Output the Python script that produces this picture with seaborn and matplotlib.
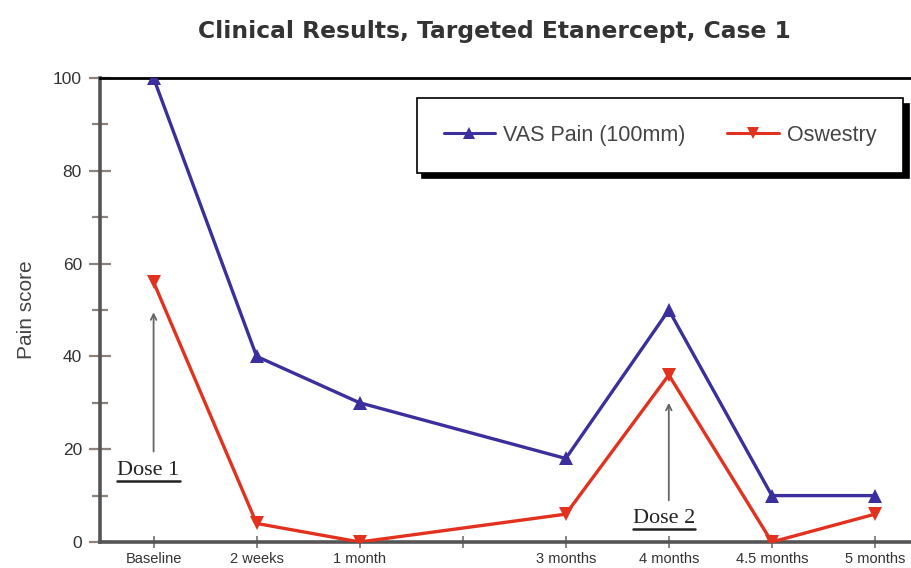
import numpy as np
import pandas as pd
import seaborn as sns
import matplotlib
matplotlib.use('Agg')
import matplotlib.pyplot as plt
from matplotlib.ticker import MultipleLocator

# tick slots on the x axis (one slot left empty, as in the source chart)
categories = ['Baseline', '2 weeks', '1 month', '', '3 months', '4 months', '4.5 months', '5 months']
timepoints = ['Baseline', '2 weeks', '1 month', '3 months', '4 months', '4.5 months', '5 months']
vas_pain = [100, 40, 30, 18, 50, 10, 10]
oswestry = [56, 4, 0, 6, 36, 0, 6]

series_names = ['VAS Pain (100mm)', 'Oswestry']
colors = {'VAS Pain (100mm)': '#3b2f9e', 'Oswestry': '#e2321f'}
markers = {'VAS Pain (100mm)': '^', 'Oswestry': 'v'}

df = pd.DataFrame({
    'time': timepoints * 2,
    'score': vas_pain + oswestry,
    'series': [series_names[0]] * len(timepoints) + [series_names[1]] * len(timepoints),
})
df['pos'] = df['time'].map(categories.index)

sns.set_style('white')
plt.rcParams['font.family'] = ['Liberation Sans', 'DejaVu Sans']

fig = plt.figure(figsize=(9.12, 5.68), dpi=100)
ax = fig.add_axes([100 / 912, 1 - 542 / 568, 812 / 912, 464 / 568])

sns.lineplot(data=df, x='pos', y='score', hue='series', style='series',
             palette=colors, markers=markers, dashes=False, markersize=10,
             markeredgewidth=0, linewidth=2.4, ax=ax, legend=False, zorder=3)

ax.set_xlim(-0.52, 7.36)
ax.set_ylim(0, 100)
ax.set_xticks(range(len(categories)))
ax.set_xticklabels(categories, fontsize=10.5, color='#333333')
ax.yaxis.set_major_locator(MultipleLocator(20))
ax.yaxis.set_minor_locator(MultipleLocator(10))
ax.tick_params(left=True, bottom=True, which='both')
ax.tick_params(axis='y', which='major', direction='inout', length=16, width=1.6,
               color='#8c847c', labelsize=12.5, labelcolor='#333333', pad=5)
ax.tick_params(axis='y', which='minor', direction='inout', length=12, width=1.6, color='#8c847c')
ax.tick_params(axis='x', direction='inout', length=9, width=1.4, color='#8c847c', pad=3)
ax.set_xlabel('')
ax.set_ylabel('Pain score', fontsize=15, color='#444444', labelpad=12)

for s in ['left', 'bottom']:
    ax.spines[s].set_color('#555555')
    ax.spines[s].set_linewidth(2.6)
ax.spines['top'].set_color('black')
ax.spines['top'].set_linewidth(2)
ax.spines['right'].set_visible(False)

fig.suptitle('Clinical Results, Targeted Etanercept, Case 1', x=0.542, y=0.944, va='center',
             fontsize=16.8, fontweight='bold', family='DejaVu Sans', color='#333333')

handles = [plt.Line2D([], [], color=colors[n], marker=markers[n], markersize=9,
                      markeredgewidth=0, linewidth=2.2) for n in series_names]
leg = ax.legend(handles, series_names, loc='upper left', bbox_to_anchor=(0.39, 0.957, 0.599, 0.0),
                mode='expand', ncol=2, frameon=True, fancybox=False, fontsize=15.5,
                borderpad=1.25, handlelength=2.4, handletextpad=0.35,
                columnspacing=1.5, borderaxespad=0,
                shadow={'color': 'black', 'alpha': 1, 'ox': 4, 'oy': -4})
leg.get_frame().set_edgecolor('black')
leg.get_frame().set_linewidth(1.2)
for t in leg.get_texts():
    t.set_color('#444444')

# dose annotations
doses = [('Dose 1', 0, 15.5, 19.5, 49.5), ('Dose 2', 5, 5.0, 9, 30)]
dose_texts = []
for label, xpos, ytext, ystart, yend in doses:
    ax.annotate('', xy=(xpos, yend), xytext=(xpos, ystart),
                arrowprops=dict(arrowstyle='->', color='#666666', lw=1.3, shrinkA=0, shrinkB=0))
    t = ax.text(xpos - 0.05, ytext, label, fontsize=16, family='Liberation Serif',
                ha='center', va='center', color='#222222')
    dose_texts.append(t)

# underline the dose labels
fig.canvas.draw()
inv = fig.transFigure.inverted()
for t in dose_texts:
    bb = t.get_window_extent()
    (x0, y0), (x1, _) = inv.transform([(bb.x0, bb.y0 - 1), (bb.x1, bb.y0)])
    fig.add_artist(plt.Line2D([x0, x1], [y0, y0], color='#222222', lw=1.8))

fig.savefig('out.png', dpi=100)
